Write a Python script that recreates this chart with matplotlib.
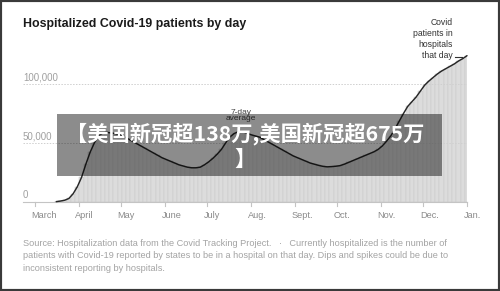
import matplotlib
matplotlib.use("Agg")
import matplotlib.pyplot as plt
import matplotlib.dates as mdates
import matplotlib.patches as mpatches
import matplotlib.transforms as mtransforms
from matplotlib import font_manager
import pandas as pd

# ---------------- data ----------------
start_date = "2020-03-16"
step_days = 3
hospitalized_k = [
    0.3, 0.8, 1.5, 3, 7, 13, 21, 32, 42, 50,
    56, 58.5, 59, 58.5, 58, 57, 55.5, 53.5, 51.5, 49.5,
    47.5, 45.5, 43.5, 41.5, 39.5, 37.5, 36, 34.5, 33, 31.5,
    30.5, 29.5, 29, 29, 29.5, 31.5, 34, 37, 40.5, 44.5,
    50, 55, 58, 59.5, 59.5, 58.5, 57, 56, 55, 53,
    51, 49, 47, 45, 43, 41, 39, 37.5, 36, 34.5,
    33, 32, 31, 30.2, 29.8, 30, 30.3, 30.8, 32, 33.5,
    35, 36.5, 38, 39.5, 41, 42.5, 44.5, 47.5, 51.5, 56,
    62, 68.5, 75, 81, 85, 89, 94, 99, 102.5, 105.5,
    108.5, 111, 113, 115, 117, 119.5, 121.5, 124,
]
month_ticks = ["2020-03-01", "2020-04-01", "2020-05-01", "2020-06-01", "2020-07-01",
               "2020-08-01", "2020-09-01", "2020-10-01", "2020-11-01", "2020-12-01",
               "2021-01-01"]
month_labels = ["March", "April", "May", "June", "July", "Aug.", "Sept.", "Oct.",
                "Nov.", "Dec.", "Jan."]
y_ticks = [0, 50000, 100000]
y_labels = ["0", "50,000", "100,000"]

title = "Hospitalized Covid-19 patients by day"
note_line = "Covid\npatients in\nhospitals\nthat day"
avg_label = "7-day\naverage"
footer = ("Source: Hospitalization data from the Covid Tracking Project.   \u00b7   Currently hospitalized is the number of\n"
          "patients with Covid-19 reported by states to be in a hospital on that day. Dips and spikes could be due to\n"
          "inconsistent reporting by hospitals.")
banner = "【美国新冠超138万,美国新冠超675万\n】"

# ---------------- fonts ----------------
names = {f.name for f in font_manager.fontManager.ttflist}
narrow = "Liberation Sans Narrow" if "Liberation Sans Narrow" in names else "Liberation Sans"
base = "Liberation Sans"

dates = pd.date_range(start_date, periods=len(hospitalized_k), freq=f"{step_days}D")
values = [v * 1000 for v in hospitalized_k]

W, H = 500, 291
fig = plt.figure(figsize=(W / 100, H / 100), dpi=100)
fig.patch.set_facecolor("white")

def fx(px):
    return px / W

def fy(py):
    return 1 - py / H

# axes: x from 23 to 467 px, y from 202 (0) up to 54.5 (125k)
ax = fig.add_axes([fx(23), fy(202), fx(467) - fx(23), fy(54.5) - fy(202)])
x0 = mdates.date2num(pd.Timestamp("2020-03-01")) - 12 / 1.41
x1 = mdates.date2num(pd.Timestamp("2021-01-01"))
ax.set_xlim(x0, x1)
ax.set_ylim(0, 125000)

ax.bar(dates, values, width=step_days, align="center", color="#dcdcdc",
       edgecolor="#c9c9c9", linewidth=0.35, zorder=1)
ax.plot(dates, values, color="#262626", linewidth=1.05, zorder=3, clip_on=False,
        solid_capstyle="round")

for s in ax.spines.values():
    s.set_visible(False)
ax.set_xticks([])
ax.set_yticks([])

# gridlines
for yv in y_ticks[1:]:
    ax.plot([x0, x1], [yv, yv], color="#cfcfcf", linewidth=0.7, linestyle=(0, (1.5, 1.5)), zorder=2)
ax.plot([x0, x1], [0, 0], color="#c4c4c4", linewidth=0.8, zorder=2, clip_on=False)

# y labels (above gridlines)
trans_y = mtransforms.blended_transform_factory(ax.transAxes, ax.transData)
for yv, lab in zip(y_ticks, y_labels):
    ax.text(0, yv, lab, transform=trans_y + mtransforms.ScaledTranslation(0, 1.2 / 72, fig.dpi_scale_trans),
            ha="left", va="bottom", fontsize=7, color="#a0a0a0", family=base)

# month ticks and labels
trans_x = mtransforms.blended_transform_factory(ax.transData, ax.transAxes)
for d, lab in zip(month_ticks, month_labels):
    xv = mdates.date2num(pd.Timestamp(d))
    ax.plot([xv, xv], [0, -0.025], transform=trans_x, color="#c4c4c4", linewidth=0.8, clip_on=False)
    ax.text(xv, 0, lab, transform=trans_x + mtransforms.ScaledTranslation(-2.5 / 72, -6.5 / 72, fig.dpi_scale_trans),
            ha="left", va="top", fontsize=6.6, color="#8a8a8a", family=base)

# 7-day average label
ax.text(mdates.date2num(pd.Timestamp("2020-07-25")), 67500, avg_label, ha="center", va="bottom",
        fontsize=6.0, color="#444444", family=narrow, linespacing=0.95, zorder=4)

# title
fig.text(fx(23), fy(24), title, ha="left", va="center", fontsize=8.9, fontweight="bold",
         color="#1a1a1a", family=narrow)

# covid annotation
fig.text(fx(453), fy(60.5), note_line, ha="right", va="bottom", fontsize=6.2, color="#333333",
         family=narrow, linespacing=1.3, multialignment="right")
fig.add_artist(plt.Line2D([fx(455), fx(462)], [fy(56.5), fy(56.5)], color="#333333", linewidth=0.8))

# footer
fig.text(fx(23), fy(239.0), footer, ha="left", va="top", fontsize=6.55, color="#a3a3a3",
         family=base, linespacing=1.5)

# banner overlay
fig.add_artist(mpatches.Rectangle((fx(57), fy(176)), fx(442) - fx(57), fy(114) - fy(176),
                                  transform=fig.transFigure, facecolor="black", alpha=0.45,
                                  edgecolor="none", zorder=10))
fig.text(fx(245), fy(146), banner, ha="center", va="center", fontsize=15.3, fontweight="bold",
         color="white", family=["Noto Sans CJK SC", "DejaVu Sans"], linespacing=1.25, zorder=11)

# outer frame
fig.add_artist(mpatches.Rectangle((0, 0), 1, 1, transform=fig.transFigure, facecolor="none",
                                  edgecolor="#3a3a3a", linewidth=3.0, zorder=20))

fig.savefig("out.png", dpi=100)
